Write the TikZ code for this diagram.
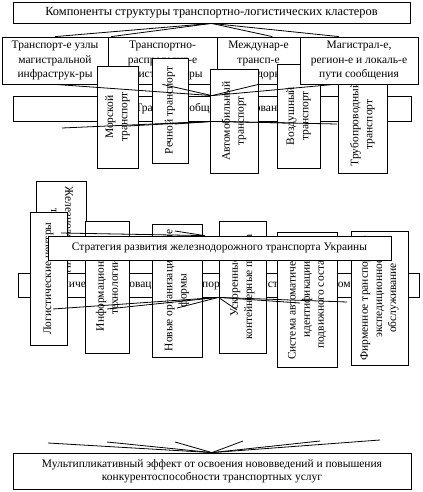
\documentclass[tikz,border=0pt]{standalone}
\usepackage{fontspec}
\setmainfont{Liberation Serif}
\usepackage{tikz}

\begin{document}
\begin{tikzpicture}[x=0.75pt,y=-0.75pt,line width=0.6pt,
  box/.style 2 args={draw,fill=white,align=center,inner sep=1pt,
    minimum width=#1*0.75pt,minimum height=#2*0.75pt,
    font=\fontsize{8.6}{10.6}\selectfont},
  upbox/.style 2 args={box={#2}{#1},rotate=90},
  downbox/.style 2 args={box={#2}{#1},rotate=-90}]
\useasboundingbox (0,0) rectangle (422,492);

\node[box={397}{21},font=\fontsize{9.3}{11}\selectfont] (title) at (211.5,12.5) {Компоненты структуры транспортно-логистических кластеров};
\node[box={106}{47}] (uzly) at (55,60.5) {Транспорт-е узлы\\магистральной\\инфраструк-ры};
\node[box={109}{47}] (centr) at (162.5,60.5) {Транспортно-\\распределит-е\\логист-е центры};
\node[box={83}{47}] (korid) at (258.5,60.5) {Междунар-е\\трансп-е\\коридоры};
\node[box={398}{25}] (obshch) at (212,108.5) {Транспорт общего пользования};
\node[upbox={41}{102}] (more) at (117.5,117) {Морской\\транспорт};
\node[upbox={36}{105}] (reka) at (170,110.5) {Речной транспорт};
\node[upbox={48}{104}] (avto) at (234,121) {Автомобильный\\транспорт};
\node[upbox={43}{104}] (avia) at (298.5,116) {Воздушный\\транспорт};
\node[upbox={49}{97}] (truba) at (362.5,124.5) {Трубопроводный\\транспорт};
\node[box={118}{47}] (puti) at (359,60.5) {Магистрал-е,\\регион-е и локаль-е\\пути сообщения};

\coordinate (t1) at (62,128);
\coordinate (t2) at (128,126);
\coordinate (t3) at (175,124);
\coordinate (t4) at (290,123);
\coordinate (t5) at (337,124);

\draw (title.south) -- (uzly.north);
\draw (title.south) -- (centr.155);
\draw (title.south) -- (korid.60);
\draw (title.south) -- (puti.130);
\draw (uzly.south) -- (obshch.north);
\draw (centr.south) -- (obshch.north);
\draw (korid.south) -- (obshch.north);
\draw (puti.224) -- (obshch.north);
\draw (obshch.south) -- (t1);
\draw (obshch.south) -- (t2);
\draw (obshch.south) -- (t3);
\draw (obshch.south) -- (t4);
\draw (obshch.south) -- (t5);

\node[downbox={50}{104}] (zhd) at (61,233) {Железнодорожный\\транспорт};
\node[box={401}{24}] (innov) at (218.5,285) {Технические инновации в транспортной логистике и грузовом сервисе};
\node[upbox={37}{133}] (logc) at (48.5,278.5) {Логистические центры};
\node[upbox={44}{132}] (info) at (107,287) {Информационные\\технологии};
\node[upbox={50}{133}] (orgf) at (177,290.5) {Новые организационные\\формы};
\node[upbox={47}{132}] (kont) at (242.5,287) {Ускоренные\\контейнерные поезда};
\node[upbox={60}{135}] (ident) at (307,299.5) {Система автоматической\\идентификации\\подвижного состава};
\node[upbox={57}{134}] (firm) at (379.5,298) {Фирменное транспортно-\\экспедиционное\\обслуживание};
\node[box={343}{24}] (strat) at (219.5,248) {Стратегия развития железнодорожного транспорта Украины};

\coordinate (z1) at (175,231);
\coordinate (s1) at (53,309);
\coordinate (s2) at (107,309);
\coordinate (s3) at (177,308);
\coordinate (s4) at (237,310);
\coordinate (s5) at (300,303);
\coordinate (s6) at (347,302);

\draw (zhd.center) -- (strat.140);
\draw (z1) -- (strat.140);
\draw (innov.south) -- (s1);
\draw (innov.south) -- (s2);
\draw (innov.south) -- (s3);
\draw (innov.south) -- (s4);
\draw (innov.south) -- (s5);
\draw (innov.south) -- (s6);

\node[box={398}{36},font=\fontsize{8.6}{9.8}\selectfont] (effect) at (212,471) {Мультипликативный эффект от освоения нововведений и повышения\\конкурентоспособности транспортных услуг};

\coordinate (m1) at (48,443);
\coordinate (m2) at (107,442);
\coordinate (m3) at (175,442);
\coordinate (m4) at (243,441);
\coordinate (m5) at (320,441);
\coordinate (m6) at (380,440);

\draw (m1) -- (effect.north);
\draw (m2) -- (effect.north);
\draw (m3) -- (effect.north);
\draw (m4) -- (effect.north);
\draw (m5) -- (effect.north);
\draw (m6) -- (effect.north);
\end{tikzpicture}
\end{document}
